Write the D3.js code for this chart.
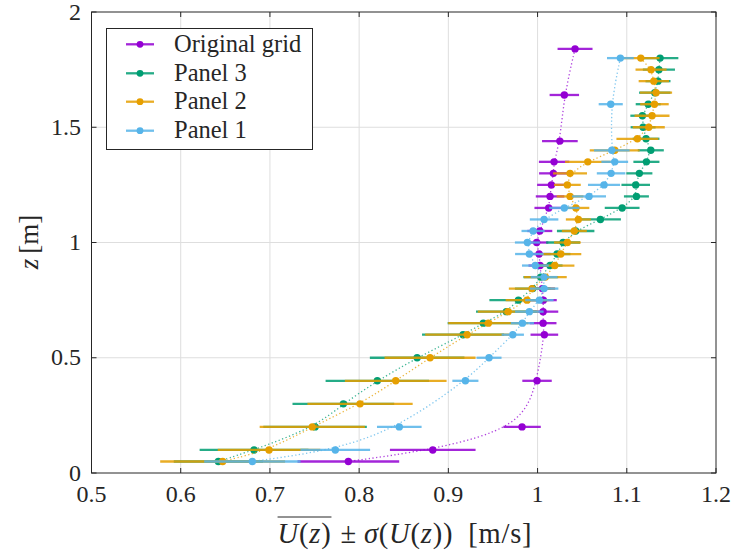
<!DOCTYPE html>
<html>
<head>
<meta charset="utf-8">
<script src="https://cdn.jsdelivr.net/npm/d3@7"></script>
<style>
  html, body { margin: 0; padding: 0; background: #ffffff; }
  svg { display: block; }
  text { font-family: "Liberation Serif", "Times New Roman", serif; fill: #262626; }
</style>
</head>
<body>
<svg id="chart" width="735" height="555"></svg>
<script>
// Mean streamwise velocity profiles with ±1 standard deviation bars.

const xTicks = [0.5, 0.6, 0.7, 0.8, 0.9, 1.0, 1.1, 1.2];
const xTickLabels = ["0.5", "0.6", "0.7", "0.8", "0.9", "1", "1.1", "1.2"];
const yTicks = [0, 0.5, 1, 1.5, 2];
const yTickLabels = ["0", "0.5", "1", "1.5", "2"];

// Original grid
const zOriginal = [1.84, 1.64, 1.44, 1.35, 1.30, 1.25, 1.20, 1.15, 1.05, 1.00, 0.95, 0.90, 0.80, 0.75, 0.70, 0.65, 0.60, 0.40, 0.20, 0.10, 0.05];
const uOriginal = [1.042, 1.030, 1.025, 1.0185, 1.0177, 1.0155, 1.014, 1.0125, 1.0025, 0.999, 1.0017, 1.0028, 1.0054, 1.0065, 1.0062, 1.0062, 1.0076, 0.9994, 0.9826, 0.8825, 0.7879];
const sOriginal = [0.0196, 0.0165, 0.020, 0.017, 0.016, 0.016, 0.016, 0.016, 0.014, 0.013, 0.013, 0.013, 0.014, 0.015, 0.017, 0.015, 0.0155, 0.0165, 0.021, 0.048, 0.057];

// Panel 3
const zPanel3 = [1.80, 1.75, 1.70, 1.65, 1.60, 1.55, 1.50, 1.45, 1.40, 1.35, 1.30, 1.25, 1.20, 1.15, 1.10, 1.05, 1.00, 0.95, 0.90, 0.85, 0.80, 0.75, 0.70, 0.65, 0.60, 0.50, 0.40, 0.30, 0.20, 0.10, 0.05];
const uPanel3 = [1.1373, 1.136, 1.135, 1.1314, 1.124, 1.1175, 1.1183, 1.1216, 1.1269, 1.122, 1.1141, 1.110, 1.1108, 1.0948, 1.0704, 1.0427, 1.0286, 1.0219, 1.014, 1.0036, 0.9946, 0.9785, 0.965, 0.9392, 0.9165, 0.865, 0.8204, 0.7823, 0.7506, 0.6822, 0.6422];
const sPanel3 = [0.0205, 0.018, 0.014, 0.0176, 0.014, 0.0135, 0.014, 0.015, 0.0146, 0.0146, 0.0146, 0.016, 0.014, 0.0195, 0.023, 0.021, 0.019, 0.015, 0.014, 0.0195, 0.020, 0.0325, 0.034, 0.040, 0.046, 0.053, 0.058, 0.057, 0.058, 0.061, 0.050];

// Panel 2
const zPanel2 = [1.80, 1.75, 1.70, 1.65, 1.60, 1.55, 1.50, 1.45, 1.40, 1.35, 1.30, 1.25, 1.20, 1.15, 1.10, 1.05, 1.00, 0.95, 0.90, 0.85, 0.80, 0.75, 0.70, 0.65, 0.60, 0.50, 0.40, 0.30, 0.20, 0.10, 0.05];
const uPanel2 = [1.1157, 1.1272, 1.1303, 1.1328, 1.131, 1.1283, 1.1246, 1.1119, 1.0865, 1.0563, 1.0364, 1.0334, 1.0364, 1.043, 1.0457, 1.0412, 1.0334, 1.026, 1.0193, 1.0087, 0.9938, 0.9882, 0.967, 0.9448, 0.921, 0.8795, 0.841, 0.801, 0.7475, 0.699, 0.647];
const sPanel2 = [0.021, 0.0174, 0.017, 0.018, 0.016, 0.0196, 0.018, 0.0235, 0.028, 0.0255, 0.019, 0.015, 0.015, 0.015, 0.014, 0.014, 0.015, 0.023, 0.022, 0.024, 0.026, 0.024, 0.034, 0.045, 0.047, 0.051, 0.057, 0.059, 0.059, 0.0575, 0.070];

// Panel 1
const zPanel1 = [1.80, 1.60, 1.40, 1.35, 1.30, 1.25, 1.20, 1.15, 1.10, 1.05, 1.00, 0.95, 0.90, 0.85, 0.80, 0.75, 0.70, 0.65, 0.60, 0.50, 0.40, 0.20, 0.10, 0.05];
const uPanel1 = [1.0928, 1.082, 1.0832, 1.0865, 1.0824, 1.0745, 1.0577, 1.030, 1.0073, 0.995, 0.9886, 0.9908, 0.9975, 1.0073, 1.0073, 1.002, 0.9908, 0.983, 0.9722, 0.9456, 0.9191, 0.845, 0.7733, 0.6803];
const sPanel1 = [0.015, 0.0135, 0.020, 0.015, 0.016, 0.018, 0.019, 0.017, 0.016, 0.013, 0.014, 0.016, 0.015, 0.015, 0.016, 0.016, 0.016, 0.013, 0.0125, 0.014, 0.0146, 0.025, 0.039, 0.054];

const seriesNames = ["Original grid", "Panel 3", "Panel 2", "Panel 1"];
const seriesColors = ["#9400D3", "#009E73", "#E69F00", "#56B4E9"];

const series = [
  { name: seriesNames[0], color: seriesColors[0], z: zOriginal, u: uOriginal, s: sOriginal },
  { name: seriesNames[1], color: seriesColors[1], z: zPanel3, u: uPanel3, s: sPanel3 },
  { name: seriesNames[2], color: seriesColors[2], z: zPanel2, u: uPanel2, s: sPanel2 },
  { name: seriesNames[3], color: seriesColors[3], z: zPanel1, u: uPanel1, s: sPanel1 }
].map(d => ({ ...d, points: d.z.map((z, i) => ({ z, u: d.u[i], s: d.s[i] })) }));

const svg = d3.select("#chart");
const plot = { left: 91.5, right: 716, top: 12, bottom: 473 };

const x = d3.scaleLinear().domain([0.5, 1.2]).range([plot.left, plot.right]);
const y = d3.scaleLinear().domain([0, 2]).range([plot.bottom, plot.top]);

// grid
const grid = svg.append("g").attr("class", "grid");
grid.selectAll("line.gx").data(xTicks.slice(1, -1)).join("line")
  .attr("x1", d => x(d)).attr("x2", d => x(d))
  .attr("y1", plot.top).attr("y2", plot.bottom)
  .attr("stroke", "#dedede").attr("stroke-width", 1);
grid.selectAll("line.gy").data(yTicks.slice(1, -1)).join("line")
  .attr("x1", plot.left).attr("x2", plot.right)
  .attr("y1", d => y(d)).attr("y2", d => y(d))
  .attr("stroke", "#dedede").attr("stroke-width", 1);

// data
const line = d3.line().x(d => x(d.u)).y(d => y(d.z)).curve(d3.curveBasis);
const dataG = svg.append("g");

series.forEach(sr => {
  const g = dataG.append("g");
  g.append("path")
    .datum(sr.points)
    .attr("d", line)
    .attr("fill", "none")
    .attr("stroke", sr.color)
    .attr("stroke-width", 1.3)
    .attr("stroke-dasharray", "1.3,2.4")
    .attr("opacity", 0.75);
  g.selectAll("line.err").data(sr.points).join("line")
    .attr("x1", d => x(d.u - d.s)).attr("x2", d => x(d.u + d.s))
    .attr("y1", d => y(d.z)).attr("y2", d => y(d.z))
    .attr("stroke", sr.color).attr("stroke-width", 2.3).attr("opacity", 0.85);
  g.selectAll("circle").data(sr.points).join("circle")
    .attr("cx", d => x(d.u)).attr("cy", d => y(d.z)).attr("r", 3.7)
    .attr("fill", sr.color);
});

// frame and ticks
const axG = svg.append("g");
axG.append("rect")
  .attr("x", plot.left).attr("y", plot.top)
  .attr("width", plot.right - plot.left).attr("height", plot.bottom - plot.top)
  .attr("fill", "none").attr("stroke", "#262626").attr("stroke-width", 1);

const tickLen = 5;
xTicks.forEach(t => {
  axG.append("line").attr("x1", x(t)).attr("x2", x(t)).attr("y1", plot.bottom).attr("y2", plot.bottom - tickLen).attr("stroke", "#262626");
  axG.append("line").attr("x1", x(t)).attr("x2", x(t)).attr("y1", plot.top).attr("y2", plot.top + tickLen).attr("stroke", "#262626");
});
yTicks.forEach(t => {
  axG.append("line").attr("x1", plot.left).attr("x2", plot.left + tickLen).attr("y1", y(t)).attr("y2", y(t)).attr("stroke", "#262626");
  axG.append("line").attr("x1", plot.right).attr("x2", plot.right - tickLen).attr("y1", y(t)).attr("y2", y(t)).attr("stroke", "#262626");
});

axG.selectAll("text.xt").data(xTicks).join("text")
  .attr("x", d => x(d)).attr("y", 502)
  .attr("text-anchor", "middle").attr("font-size", 24)
  .text((d, i) => xTickLabels[i]);
axG.selectAll("text.yt").data(yTicks).join("text")
  .attr("x", 81).attr("y", d => y(d) + 7.5)
  .attr("text-anchor", "end").attr("font-size", 24)
  .text((d, i) => yTickLabels[i]);

// x label with overlined mean, math-style spacing
const xl = svg.append("text").attr("y", 543).attr("font-size", 28.5).attr("letter-spacing", 0.8);
xl.append("tspan").attr("font-style", "italic").text("U");
xl.append("tspan").text("(");
xl.append("tspan").attr("font-style", "italic").text("z");
xl.append("tspan").text(")");
xl.append("tspan").attr("dx", 9).text("±");
xl.append("tspan").attr("dx", 7).attr("font-style", "italic").text("σ");
xl.append("tspan").text("(");
xl.append("tspan").attr("font-style", "italic").text("U");
xl.append("tspan").text("(");
xl.append("tspan").attr("font-style", "italic").text("z");
xl.append("tspan").text("))");
xl.append("tspan").attr("dx", 15).text("[m/s]");
const xlNode = xl.node();
const xlW = xlNode.getComputedTextLength() + 31;
xl.attr("x", 405 - xlW / 2);
const ox0 = xlNode.getStartPositionOfChar(0).x;
const ox1 = xlNode.getEndPositionOfChar(3).x;
svg.append("line").attr("x1", ox0).attr("x2", ox1).attr("y1", 517).attr("y2", 517)
  .attr("stroke", "#262626").attr("stroke-width", 1);

// y label
const yl = svg.append("text")
  .attr("transform", "translate(38,242) rotate(-90)")
  .attr("text-anchor", "middle").attr("font-size", 27);
yl.append("tspan").attr("font-style", "italic").text("z");
yl.append("tspan").attr("dx", 5).text("[m]");

// legend
const leg = svg.append("g");
leg.append("rect").attr("x", 106.5).attr("y", 28.5).attr("width", 206).attr("height", 121)
  .attr("fill", "#ffffff").attr("stroke", "#262626").attr("stroke-width", 1);
const legY = [44.3, 73.3, 101.7, 130.7];
series.forEach((sr, i) => {
  leg.append("line").attr("x1", 126).attr("x2", 154).attr("y1", legY[i]).attr("y2", legY[i])
    .attr("stroke", sr.color).attr("stroke-width", 2.3).attr("opacity", 0.85);
  leg.append("circle").attr("cx", 140).attr("cy", legY[i]).attr("r", 3.4).attr("fill", sr.color);
  leg.append("text").attr("x", 174).attr("y", legY[i] + 7.5).attr("font-size", 24.5).text(sr.name);
});
</script>
</body>
</html>
